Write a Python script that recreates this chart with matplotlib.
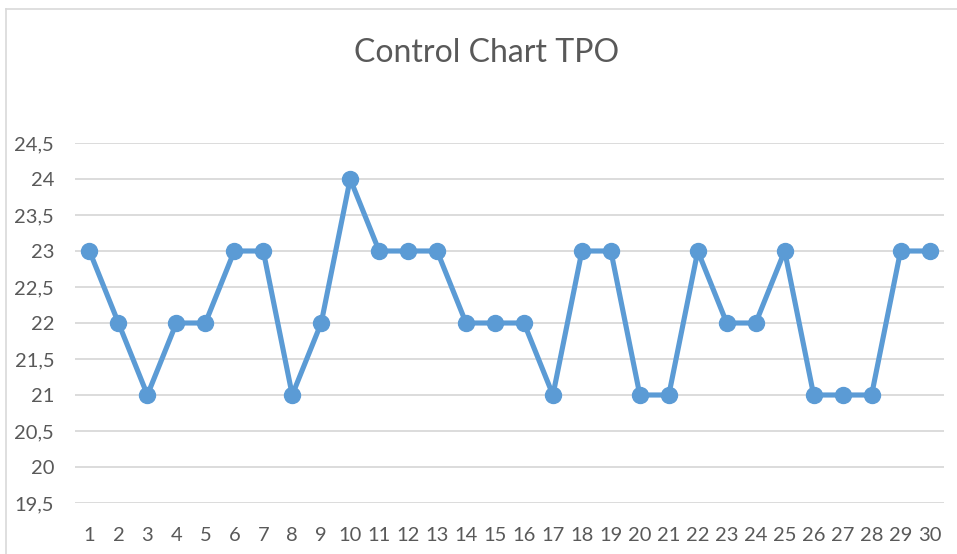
import matplotlib.pyplot as plt
from matplotlib.ticker import FixedLocator, FuncFormatter
from matplotlib.lines import Line2D

# --- DATA ---
samples = list(range(1, 31))
tpo = [23, 22, 21, 22, 22, 23, 23, 21, 22, 24,
       23, 23, 23, 22, 22, 22, 21, 23, 23, 21,
       21, 23, 22, 22, 23, 21, 21, 21, 23, 23]
y_ticks = [19.5, 20, 20.5, 21, 21.5, 22, 22.5, 23, 23.5, 24, 24.5]

plt.rcParams['font.family'] = ['Lato', 'DejaVu Sans']

W, H = 957, 554
fig = plt.figure(figsize=(W / 100, H / 100), dpi=100)

# chart border (Excel chart area outline)
border = '#D9D9D9'
fig.add_artist(Line2D([6 / W, 6 / W], [0, 1 - 9 / H], color=border, lw=1.2))
fig.add_artist(Line2D([6 / W, 1], [1 - 9 / H, 1 - 9 / H], color=border, lw=1.2))

ax = fig.add_axes([75 / W, 1 - 503 / H, (944 - 75) / W, (503 - 143) / H])

ax.plot(samples, tpo, color='#5B9BD5', linewidth=3.7, marker='o',
        markersize=11.5, solid_joinstyle='round', zorder=3)

ax.set_xlim(0.5, 30.5)
ax.set_ylim(19.5, 24.5)
ax.yaxis.set_major_locator(FixedLocator(y_ticks))
ax.yaxis.set_major_formatter(FuncFormatter(
    lambda v, p: ('%g' % v).replace('.', ',')))
ax.set_xticks(samples)

ax.grid(axis='y', color='#D9D9D9', linewidth=1.3)
ax.set_axisbelow(True)
for s in ax.spines.values():
    s.set_visible(False)

ax.tick_params(axis='both', length=0, labelsize=14.5, colors='#595959')
ax.tick_params(axis='x', pad=17)
ax.tick_params(axis='y', pad=15)
for lbl in ax.get_yticklabels():
    lbl.set_horizontalalignment('right')

fig.text(487 / W, 1 - 53 / H, 'Control Chart TPO', ha='center', va='center',
         fontsize=23, color='#595959')

fig.savefig('out.png', dpi=100)
